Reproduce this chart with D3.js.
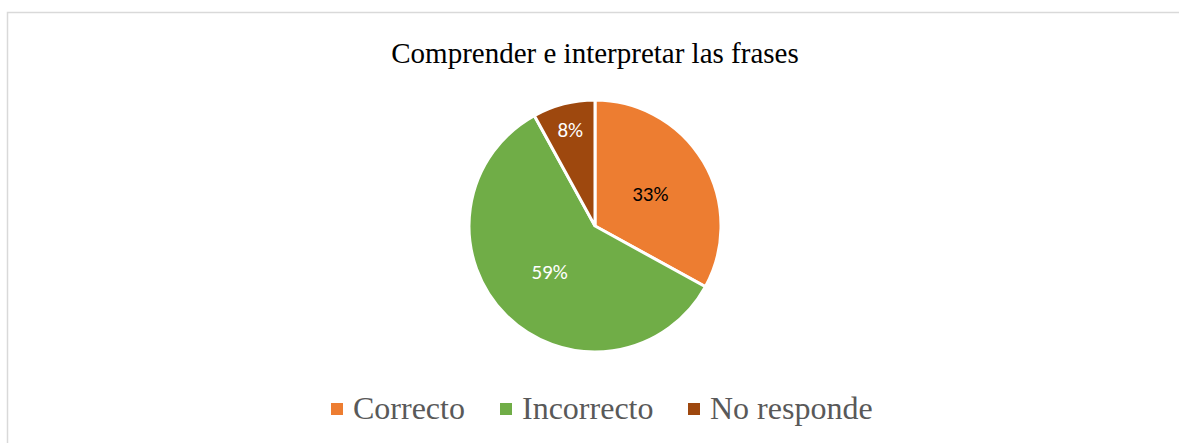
<!DOCTYPE html>
<html>
<head>
<meta charset="utf-8">
<script src="https://cdn.jsdelivr.net/npm/d3@7"></script>
<style>
  body { margin: 0; background: #fff; }
</style>
</head>
<body>
<svg id="chart" width="1179" height="443"></svg>
<script>
const categories = ["Correcto", "Incorrecto", "No responde"];
const values = [33, 59, 8];
const labels = ["33%", "59%", "8%"];
const colors = ["#ED7D31", "#70AD47", "#9E480E"];
const labelColors = ["#000000", "#ffffff", "#ffffff"];

const svg = d3.select("#chart");

// chart area border (runs off the right and bottom edge)
svg.append("rect").attr("x", 7.5).attr("y", 12.5)
  .attr("width", 1200).attr("height", 500)
  .style("fill", "#fff").style("stroke", "#d9d9d9").style("stroke-width", "1.5px");

svg.append("text").attr("x", 595).attr("y", 63)
  .attr("text-anchor", "middle")
  .style("font-family", "'Liberation Serif', 'Times New Roman', serif")
  .style("font-size", "29px").style("fill", "#000")
  .text("Comprender e interpretar las frases");

const cx = 595, cy = 226, r = 126;
const pie = d3.pie().sort(null).value(d => d);
const arcs = pie(values);
const arc = d3.arc().innerRadius(0).outerRadius(r);

const g = svg.append("g").attr("transform", `translate(${cx},${cy})`);
g.selectAll("path").data(arcs).enter().append("path")
  .attr("d", arc)
  .style("fill", (d, i) => colors[i])
  .style("stroke", "#fff").style("stroke-width", "3px");

// small slices get their label pushed outward, like Excel's best fit
const labelPos = d => {
  const k = (d.endAngle - d.startAngle) < 0.6 ? 0.79 : 0.51;
  return d3.arc().innerRadius(r * k).outerRadius(r * k).centroid(d);
};
g.selectAll("text.lbl").data(arcs).enter().append("text")
  .attr("class", "lbl")
  .attr("transform", d => `translate(${labelPos(d)})`)
  .attr("text-anchor", "middle").attr("dy", "0.35em")
  .style("font-family", "Carlito, 'Open Sans', 'Noto Sans', sans-serif")
  .style("font-size", "21px")
  .style("fill", (d, i) => labelColors[i])
  .text((d, i) => labels[i]);

// legend
const legendX = [331, 500, 688];
const lg = svg.append("g");
categories.forEach((c, i) => {
  lg.append("rect").attr("x", legendX[i]).attr("y", 403)
    .attr("width", 12).attr("height", 12).style("fill", colors[i]);
  lg.append("text").attr("x", legendX[i] + 22).attr("y", 419)
    .style("font-family", "'Liberation Serif', 'Times New Roman', serif")
    .style("font-size", "32px").style("fill", "#595959")
    .text(c);
});
</script>
</body>
</html>
